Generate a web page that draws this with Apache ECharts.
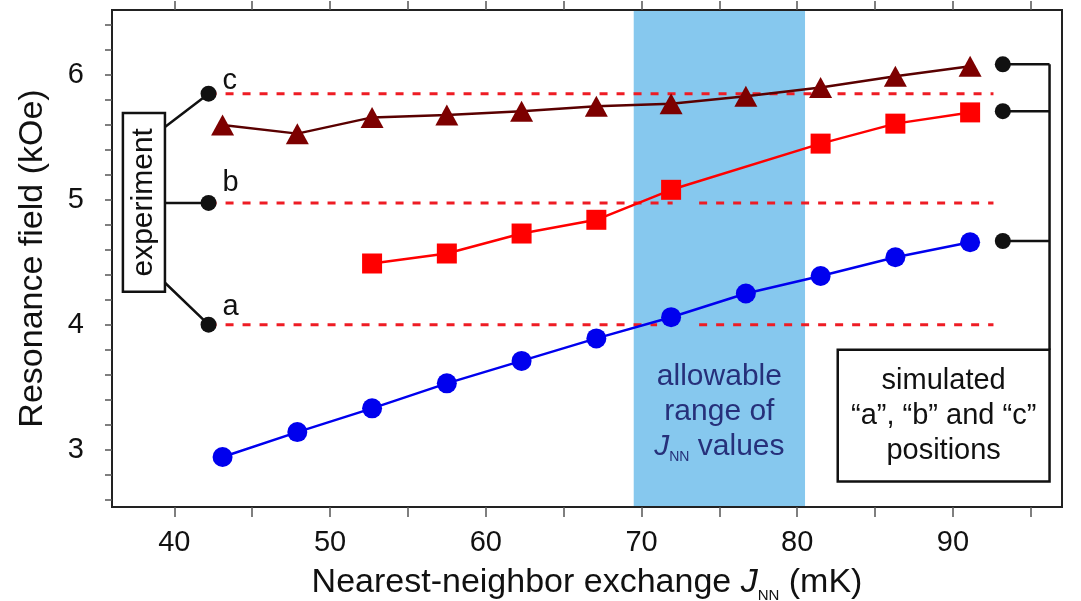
<!DOCTYPE html>
<html>
<head>
<meta charset="utf-8">
<script src="https://cdn.jsdelivr.net/npm/echarts@6/dist/echarts.min.js"></script>
<style>
html, body { margin: 0; padding: 0; background: #fff; }
#chart { width: 1081px; height: 601px; }
</style>
</head>
<body>
<div id="chart"></div>
<script>
// J_NN values (mK) of the simulations
const jnn = [43.1, 47.9, 52.7, 57.5, 62.3, 67.1, 71.9, 76.7, 81.5, 86.3, 91.1];

// simulated resonance fields (kOe)
const simA = [2.94, 3.14, 3.33, 3.53, 3.71, 3.89, 4.06, 4.25, 4.39, 4.54, 4.66];
const simB = [null, null, 4.49, 4.57, 4.73, 4.84, 5.08, null, 5.45, 5.61, 5.70];
const simC = [5.60, 5.53, 5.66, 5.68, 5.71, 5.75, 5.77, 5.83, 5.90, 5.99, 6.07];

// experimental lines a, b, c
const expNames = ["a", "b", "c"];
const expLevels = [4.0, 4.975, 5.85];
const expX = 42.2;
const dashEnd = 92.6;
const dashGaps = [[71.0, 73.7], [72.0, 73.7], null];

// simulated "a", "b", "c" markers on the right
const simX = 93.2;
const simLevels = [4.67, 5.71, 6.085];

// allowable J_NN range
const bandRange = [69.5, 80.5];

// axes
const xMin = 36, xMax = 97;
const yMin = 2.54, yMax = 6.52;
const xTicks = [40, 45, 50, 55, 60, 65, 70, 75, 80, 85, 90, 95];
const xLabels = [40, 50, 60, 70, 80, 90];
const yTicks = [2.6, 2.8, 3, 3.2, 3.4, 3.6, 3.8, 4, 4.2, 4.4, 4.6, 4.8, 5, 5.2, 5.4, 5.6, 5.8, 6, 6.2, 6.4];
const yLabels = [3, 4, 5, 6];

// annotation boxes (data coords: x0, x1, y0, y1)
const expBox = [36.7, 39.4, 4.264, 5.696];
const expJoinY = [4.336, 4.975, 5.584];
const simBox = [82.6, 96.2, 2.744, 3.8];

const FONT = "Liberation Sans, Arial, sans-serif";
const INK = "#111";

const chart = echarts.init(document.getElementById("chart"));

function pairs(ys) {
    return jnn.map((x, i) => [x, ys[i] === null ? "-" : ys[i]]);
}

function dashData(level, gap) {
    if (!gap) return [[expX, level], [dashEnd, level]];
    return [[expX, level], [gap[0], level], [gap[0], "-"], [gap[1], level], [dashEnd, level]];
}

const labelOffsets = [[1, -18], [1, -20], [1, -13]];

const series = [];

// blue band
series.push({
    type: "custom",
    z: 0,
    silent: true,
    clip: false,
    data: [bandRange],
    renderItem: function (params, api) {
        const p0 = api.coord([api.value(0), yMax]);
        const p1 = api.coord([api.value(1), yMin]);
        return {
            type: "rect",
            shape: { x: p0[0], y: p0[1], width: p1[0] - p0[0], height: p1[1] - p0[1] },
            style: { fill: "#86c8ee" }
        };
    }
});

// dashed experimental levels
expLevels.forEach((lv, i) => {
    series.push({
        type: "line",
        z: 2,
        symbol: "none",
        silent: true,
        data: dashData(lv, dashGaps[i]),
        lineStyle: { color: "#ee1c24", width: 3, type: [8, 9] }
    });
});

// connectors from "experiment" box
const joins = [];
expLevels.forEach((lv, i) => {
    joins.push([expBox[1], expJoinY[i]], [expX, lv], [expX, "-"]);
});
series.push({
    type: "line",
    z: 3,
    symbol: "none",
    silent: true,
    data: joins,
    lineStyle: { color: INK, width: 2.5 }
});

// bracket on the right
const bracket = [];
simLevels.forEach(lv => {
    bracket.push([simX, lv], [simBox[1], lv], [simBox[1], "-"]);
});
bracket.push([simBox[1], simLevels[2]], [simBox[1], simBox[3]]);
series.push({
    type: "line",
    z: 3,
    symbol: "none",
    silent: true,
    data: bracket,
    lineStyle: { color: INK, width: 2.5 }
});

// simulation series
series.push({
    type: "line",
    z: 5,
    data: pairs(simA),
    symbol: "circle",
    symbolSize: 20,
    lineStyle: { color: "#0000ee", width: 2.5 },
    itemStyle: { color: "#0000ee" }
});
series.push({
    type: "line",
    z: 5,
    data: pairs(simB),
    connectNulls: true,
    symbol: "rect",
    symbolSize: 20,
    lineStyle: { color: "#ff0000", width: 2.5 },
    itemStyle: { color: "#ff0000" }
});
series.push({
    type: "line",
    z: 5,
    data: pairs(simC),
    symbol: "triangle",
    symbolSize: [23, 21],
    lineStyle: { color: "#5a0000", width: 2.5 },
    itemStyle: { color: "#7d0000" }
});

// experimental dots with letters
series.push({
    type: "scatter",
    z: 6,
    symbolSize: 16,
    itemStyle: { color: INK, opacity: 1 },
    data: expLevels.map((lv, i) => ({
        value: [expX, lv],
        label: {
            show: true,
            formatter: expNames[i],
            position: "right",
            distance: 5,
            offset: labelOffsets[i],
            fontSize: 29,
            fontFamily: FONT,
            color: INK
        }
    }))
});

// simulated dots
series.push({
    type: "scatter",
    z: 6,
    symbolSize: 16,
    itemStyle: { color: INK, opacity: 1 },
    data: simLevels.map(lv => [simX, lv])
});

const axisLineStyle = { color: "#222", width: 2 };

chart.setOption({
    animation: false,
    backgroundColor: "#fff",
    grid: {
        left: 112, right: 19, top: 10, bottom: 94,
        outerBoundsMode: "none",
        containLabel: false,
        show: true, borderColor: "#222", borderWidth: 2
    },
    xAxis: [{
        type: "value",
        min: xMin, max: xMax,
        position: "bottom",
        axisLine: { show: true, onZero: false, lineStyle: axisLineStyle },
        axisTick: { show: true, customValues: xTicks, length: 10, lineStyle: { color: "#555", width: 1.5 } },
        axisLabel: { customValues: xLabels, fontSize: 29, fontFamily: FONT, color: INK, margin: 21 },
        splitLine: { show: false },
        name: "{t|Nearest-neighbor exchange }{i|J}{s|NN}{t| (mK)}",
        nameLocation: "middle",
        nameGap: 56,
        nameTextStyle: {
            rich: {
                t: { fontSize: 34, fontFamily: FONT, color: INK, lineHeight: 40 },
                i: { fontSize: 34, fontFamily: FONT, fontStyle: "italic", color: INK, lineHeight: 40 },
                s: { fontSize: 15, fontFamily: FONT, color: INK, lineHeight: 15, verticalAlign: "bottom" }
            }
        }
    }, {
        type: "value",
        min: xMin, max: xMax,
        position: "top",
        axisLine: { show: true, onZero: false, lineStyle: axisLineStyle },
        axisTick: { show: true, customValues: xTicks, length: 9, lineStyle: { color: "#555", width: 1.5 } },
        axisLabel: { show: false },
        splitLine: { show: false }
    }],
    yAxis: [{
        type: "value",
        min: yMin, max: yMax,
        axisLine: { show: true, onZero: false, lineStyle: axisLineStyle },
        axisTick: { show: true, customValues: yTicks, length: 7, lineStyle: { color: "#555", width: 1.5 } },
        axisLabel: { customValues: yLabels, fontSize: 29, fontFamily: FONT, color: INK, margin: 28 },
        splitLine: { show: false },
        name: "Resonance field (kOe)",
        nameLocation: "middle",
        nameGap: 62,
        nameTextStyle: { fontSize: 34, fontFamily: FONT, color: INK }
    }],
    series: series
});

function px(x, y) {
    return chart.convertToPixel({ xAxisIndex: 0, yAxisIndex: 0 }, [x, y]);
}

const e0 = px(expBox[0], expBox[3]);
const e1 = px(expBox[1], expBox[2]);
const s0 = px(simBox[0], simBox[3]);
const s1 = px(simBox[1], simBox[2]);
const bandMid = px((bandRange[0] + bandRange[1]) / 2, 3.3);

chart.setOption({
    graphic: [
        {
            type: "rect", z: 100,
            shape: { x: e0[0], y: e0[1], width: e1[0] - e0[0], height: e1[1] - e0[1] },
            style: { fill: "#fff", stroke: INK, lineWidth: 2.5 }
        },
        {
            type: "text", z: 101,
            x: (e0[0] + e1[0]) / 2, y: (e0[1] + e1[1]) / 2,
            rotation: Math.PI / 2,
            style: { text: "experiment", fontSize: 30, fontFamily: FONT, fill: INK, align: "center", verticalAlign: "middle" }
        },
        {
            type: "rect", z: 100,
            shape: { x: s0[0], y: s0[1], width: s1[0] - s0[0], height: s1[1] - s0[1] },
            style: { fill: "#fff", stroke: INK, lineWidth: 2.5 }
        },
        {
            type: "text", z: 101,
            x: (s0[0] + s1[0]) / 2, y: (s0[1] + s1[1]) / 2,
            style: {
                text: "simulated\n\u201ca\u201d, \u201cb\u201d and \u201cc\u201d\npositions",
                fontSize: 29, fontFamily: FONT, fill: INK, lineHeight: 35,
                align: "center", verticalAlign: "middle"
            }
        },
        {
            type: "text", z: 101,
            x: bandMid[0], y: bandMid[1],
            style: {
                text: "{t|allowable}\n{t|range of}\n{i|J}{s|NN}{t| values}",
                align: "center", verticalAlign: "middle",
                rich: {
                    t: { fontSize: 30, fontFamily: FONT, fill: "#26307a", lineHeight: 35 },
                    i: { fontSize: 30, fontFamily: FONT, fontStyle: "italic", fill: "#26307a", lineHeight: 35 },
                    s: { fontSize: 14, fontFamily: FONT, fill: "#26307a", lineHeight: 14, verticalAlign: "bottom" }
                }
            }
        }
    ]
});
</script>
</body>
</html>
